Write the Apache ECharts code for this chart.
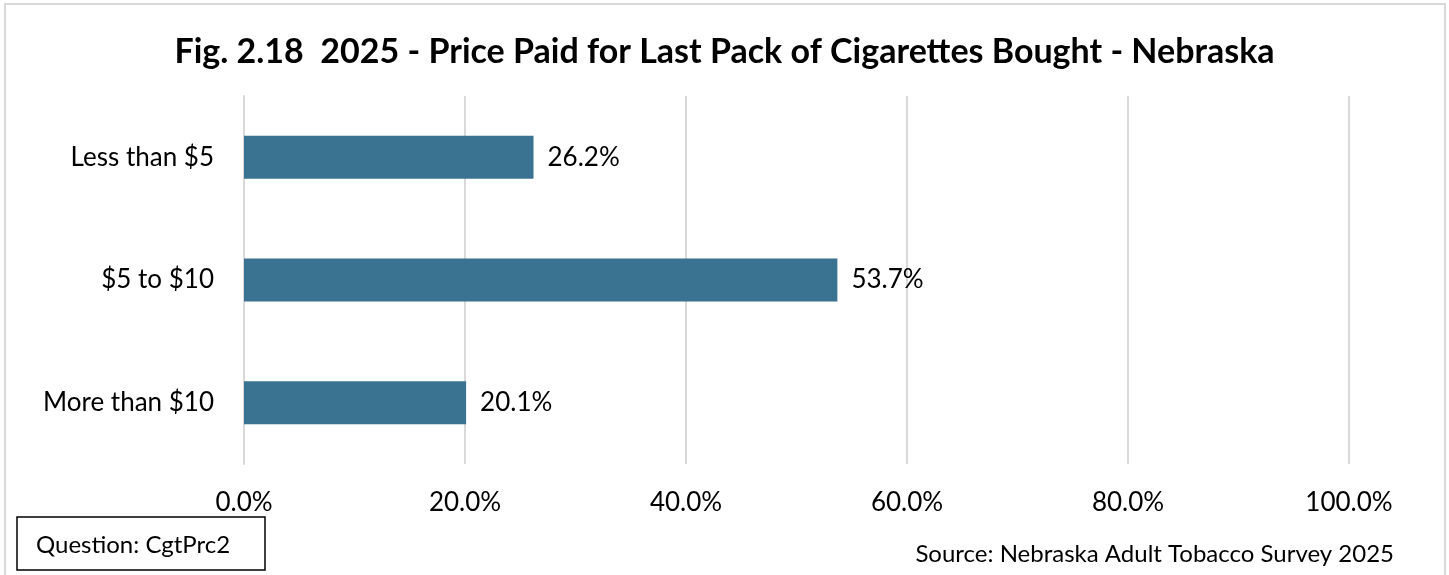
<!DOCTYPE html>
<html>
<head>
<meta charset="utf-8">
<script src="https://cdn.jsdelivr.net/npm/echarts@6/dist/echarts.min.js"></script>
<style>
html,body{margin:0;padding:0;background:#fff;}
#main{width:1449px;height:575px;}
</style>
</head>
<body>
<div id="main"></div>
<script>
const categories = ['Less than $5', '$5 to $10', 'More than $10'];
const values = [26.2, 53.7, 20.1];
const titleText = 'Fig. 2.18  2025 - Price Paid for Last Pack of Cigarettes Bought - Nebraska';
const questionText = 'Question: CgtPrc2';
const sourceText = 'Source: Nebraska Adult Tobacco Survey 2025';

const FONT = 'Lato, "Open Sans", sans-serif';
const chart = echarts.init(document.getElementById('main'), null, {renderer: 'canvas'});
chart.setOption({
  animation: false,
  backgroundColor: '#fff',
  title: {
    text: titleText,
    left: 'center',
    top: 30,
    textStyle: {fontFamily: FONT, fontWeight: 'bold', fontSize: 34, color: '#000'}
  },
  grid: {left: 244, right: 100, top: 96, bottom: 111, containLabel: false},
  xAxis: {
    type: 'value',
    min: 0, max: 100, interval: 20,
    axisLine: {show: false},
    axisTick: {show: false},
    splitLine: {show: true, lineStyle: {color: '#d9d9d9', width: 2}},
    axisLabel: {
      formatter: v => v.toFixed(1) + '%',
      fontFamily: FONT, fontSize: 26, color: '#000', margin: 26
    }
  },
  yAxis: {
    type: 'category',
    data: categories,
    inverse: true,
    axisLine: {show: true, lineStyle: {color: '#d9d9d9', width: 2}},
    axisTick: {show: false},
    axisLabel: {fontFamily: FONT, fontSize: 26, color: '#000', margin: 30}
  },
  series: [{
    type: 'bar',
    data: values,
    barWidth: 43,
    itemStyle: {color: '#3a7391'},
    label: {
      show: true,
      position: 'right',
      distance: 14,
      formatter: p => p.value.toFixed(1) + '%',
      fontFamily: FONT, fontSize: 26, color: '#000'
    }
  }],
  graphic: [
    {type: 'rect', shape: {x: 5, y: 4, width: 1440, height: 600},
     style: {fill: 'none', stroke: '#d9d9d9', lineWidth: 2}, silent: true},
    {type: 'rect', shape: {x: 17, y: 517, width: 248, height: 53},
     style: {fill: '#fff', stroke: '#000', lineWidth: 1.5}},
    {type: 'text', x: 36, y: 545,
     style: {text: questionText, font: '24px ' + FONT, fill: '#000', textVerticalAlign: 'middle'}},
    {type: 'text', x: 1394, y: 554,
     style: {text: sourceText, font: '24px ' + FONT, fill: '#000', textAlign: 'right', textVerticalAlign: 'middle'}}
  ]
});
</script>
</body>
</html>
